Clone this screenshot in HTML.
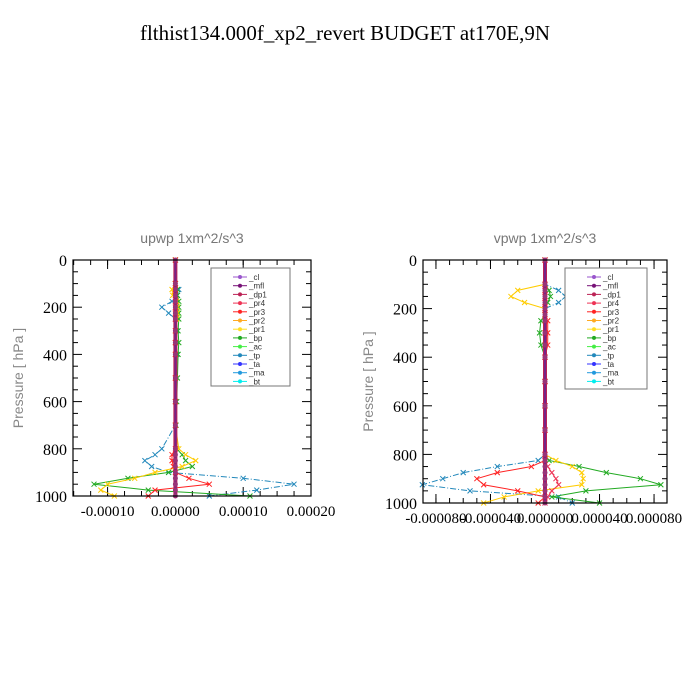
<!DOCTYPE html>
<html><head><meta charset="utf-8"><style>
body{margin:0;background:#fff}
svg{display:block}
.ser{font-family:"Liberation Serif",serif}
.san{font-family:"Liberation Sans",sans-serif}
</style></head><body>
<svg id="c" width="700" height="700" xmlns="http://www.w3.org/2000/svg">
<text class="ser" x="345" y="40" font-size="21" text-anchor="middle" textLength="410" lengthAdjust="spacingAndGlyphs">flthist134.000f_xp2_revert  BUDGET at170E,9N</text>
</svg>
<script>
// pressure levels (hPa)
const levels=[0,100,125,150,175,200,225,250,300,350,400,500,600,700,800,825,850,875,900,925,950,975,1000];
// upwp series (units 1e-5)
const up_tp =[0,0,0.5,0.3,-0.5,-2,-1,0,0.2,0,0.2,0,0,0,-2,-3,-4.5,-3.5,-1,10,17.5,12,5];
const up_bp =[0,0,0.3,0.3,0.5,0.5,0.5,0.5,0.4,0.5,0.4,0.3,0.2,0.1,0.2,1,1.5,2.5,-1,-7,-12,-4,11];
const up_pr1=[0,0,-0.5,-0.4,0.2,0.3,0.3,0.2,0,0,0,0,0,0,0.5,1.5,3,1,-3,-6,-10,-11,-9];
const up_pr3=[0,0,0,0,0,0,0,0,0,0,0,0,0,0,0,-0.5,-0.5,-0.3,0,2,5,-3,-4];
// vpwp series (units 1e-5)
const vp_tp =[0,0,1,1.5,1,0,0,0,0,0,0,0,0,0,0,-0.5,-3.5,-6,-7.5,-9,-5.5,1,2];
const vp_bp =[0,0,0.3,0.4,0.2,0,0,-0.3,-0.4,-0.3,0,0,0,0,0,0.3,2.5,4.5,7,8.5,3,0.5,4];
const vp_pr1=[0,0,-2,-2.5,-1.5,0,0,0,0,0,0,0,0,0,0,0.8,2,2.7,2.8,2.7,-0.5,-3,-4.5];
const vp_pr3=[0,0,0,0,0,0,0,0.2,0.2,0.2,0,0,0,0,0,0,-1,-3.5,-5,-4.5,-2,0,-0.5];
const vp_pr4=[0,0,0,0,0,0,0,0,0,0,0,0,0,0,0,0,0.2,0.5,0.8,1,0.5,0.2,0];
const yTicks=[0,200,400,600,800,1000];
const upXTicks=[-10,0,10,20], upXLabels=["-0.00010","0.00000","0.00010","0.00020"];
const vpXTicks=[-8,-4,0,4,8], vpXLabels=["-0.000080","-0.000040","0.000000","0.000040","0.000080"];
const legendNames=["_cl","_mfl","_dp1","_pr4","_pr3","_pr2","_pr1","_bp","_ac","_tp","_ta","_ma","_bt"];
const legendColors=["#9955cc","#771177","#bb2255","#ee3355","#ff2222","#ffaa22","#ffdd22","#22aa22","#44ee44","#2288bb","#3333ff","#2299dd","#00eeee"];

const NS="http://www.w3.org/2000/svg", svg=document.getElementById('c');
function mk(t,a,p){const e=document.createElementNS(NS,t);for(const k in a)e.setAttribute(k,a[k]);(p||svg).appendChild(e);return e;}

function panel(o){
  const g=mk('g',{});
  
  
  const X=v=>o.x0+(v-o.xmin)/(o.xmax-o.xmin)*(o.x1-o.x0);
  const Y=p=>o.y0+p/1000*(o.y1-o.y0);
  const t=mk('text',{x:(o.x0+o.x1)/2,y:o.y0-17,'font-size':14,fill:'#777','text-anchor':'middle',class:'san'},g);
  t.textContent=o.title;
  
  
  const yl=mk('text',{x:0,y:0,'font-size':14,fill:'#888','text-anchor':'middle',class:'san',transform:`translate(${o.x0-50},${(o.y0+o.y1)/2}) rotate(-90)`},g);
  yl.textContent="Pressure  [ hPa ]";
  
  
  // minor y ticks
  for(let p=0;p<=1000;p+=50){const L=(p%200==0)?9:5;
    mk('line',{x1:o.x0,x2:o.x0+L,y1:Y(p),y2:Y(p),stroke:'#000'},g);
    mk('line',{x1:o.x1,x2:o.x1-L,y1:Y(p),y2:Y(p),stroke:'#000'},g);}
  yTicks.forEach(p=>{const tt=mk('text',{x:o.x0-6,y:Y(p)+6,'font-size':16,'text-anchor':'end',class:'ser'},g);tt.textContent=p;
    
    });
  for(let v=Math.ceil(o.xmin/o.minor)*o.minor;v<=o.xmax;v+=o.minor){
    mk('line',{x1:X(v),x2:X(v),y1:o.y0,y2:o.y0+5,stroke:'#000'},g);
    mk('line',{x1:X(v),x2:X(v),y1:o.y1,y2:o.y1-5,stroke:'#000'},g);}
  o.xt.forEach((v,i)=>{
    mk('line',{x1:X(v),x2:X(v),y1:o.y0,y2:o.y0+9,stroke:'#000'},g);
    mk('line',{x1:X(v),x2:X(v),y1:o.y1,y2:o.y1-9,stroke:'#000'},g);
    const tt=mk('text',{x:X(v),y:o.y1+20,'font-size':15,'text-anchor':'middle',class:'ser'},g);tt.textContent=o.xl[i];
    
    });
  o.series.forEach(s=>{
    const pts=levels.map((p,i)=>X(s.v[i])+','+Y(p)).join(' ');
    const pl=mk('polyline',{points:pts,fill:'none',stroke:s.c,'stroke-width':1,'stroke-dasharray':s.d||''},g);
    
    
    levels.forEach((p,i)=>{mk('path',{d:`M${X(s.v[i])-2.5},${Y(p)-2.5}l5,5m0,-5l-5,5`,stroke:s.c,'stroke-width':1},g);});
  });
  // central bundle of near-zero series
  const cl=mk('line',{x1:X(0),x2:X(0),y1:o.y0,y2:o.y1,stroke:'#bb2255','stroke-width':4},g);
  
  
  mk('line',{x1:X(0),x2:X(0),y1:o.y0,y2:o.y1,stroke:'#772288','stroke-width':2},g);
  levels.forEach(p=>mk('circle',{cx:X(0),cy:Y(p),r:2.5,fill:'#993377'},g));
  mk('rect',{x:o.x0,y:o.y0,width:o.x1-o.x0,height:o.y1-o.y0,fill:'none',stroke:'#000','stroke-width':1.2},g);
  // legend
  const lg=mk('g',{},g);
  
  
  mk('rect',{x:o.lx,y:o.ly,width:o.lw,height:o.lh,fill:'#fff',stroke:'#777'},lg);
  legendNames.forEach((n,i)=>{const yy=o.ly+9+i*8.7;
    mk('line',{x1:o.lx+22,x2:o.lx+36,y1:yy,y2:yy,stroke:legendColors[i]},lg);
    mk('circle',{cx:o.lx+29,cy:yy,r:2,fill:legendColors[i]},lg);
    const tt=mk('text',{x:o.lx+38,y:yy+3,'font-size':8,class:'san',fill:'#333'},lg);tt.textContent=n;
    
    });
}
panel({name:'upwp-panel',title:'upwp    1xm^2/s^3',x0:73,x1:311,y0:260,y1:496,xmin:-15.1,xmax:20,xt:upXTicks,xl:upXLabels,minor:2.5,
  lx:211,ly:268,lw:79,lh:118,
  series:[{n:'tp',v:up_tp,c:'#2288bb',d:'6,2,1,2'},{n:'bp',v:up_bp,c:'#22aa22'},{n:'pr1',v:up_pr1,c:'#ffcc00'},{n:'pr3',v:up_pr3,c:'#ff2222'}]});
panel({name:'vpwp-panel',title:'vpwp    1xm^2/s^3',x0:423,x1:667,y0:260,y1:503,xmin:-8.95,xmax:8.95,xt:vpXTicks,xl:vpXLabels,minor:1,
  lx:565,ly:268,lw:82,lh:121,
  series:[{n:'tp',v:vp_tp,c:'#2288bb',d:'6,2,1,2'},{n:'bp',v:vp_bp,c:'#22aa22'},{n:'pr1',v:vp_pr1,c:'#ffcc00'},{n:'pr3',v:vp_pr3,c:'#ff2222'},{n:'pr4',v:vp_pr4,c:'#ee3355'}]});
</script>
</body></html>
